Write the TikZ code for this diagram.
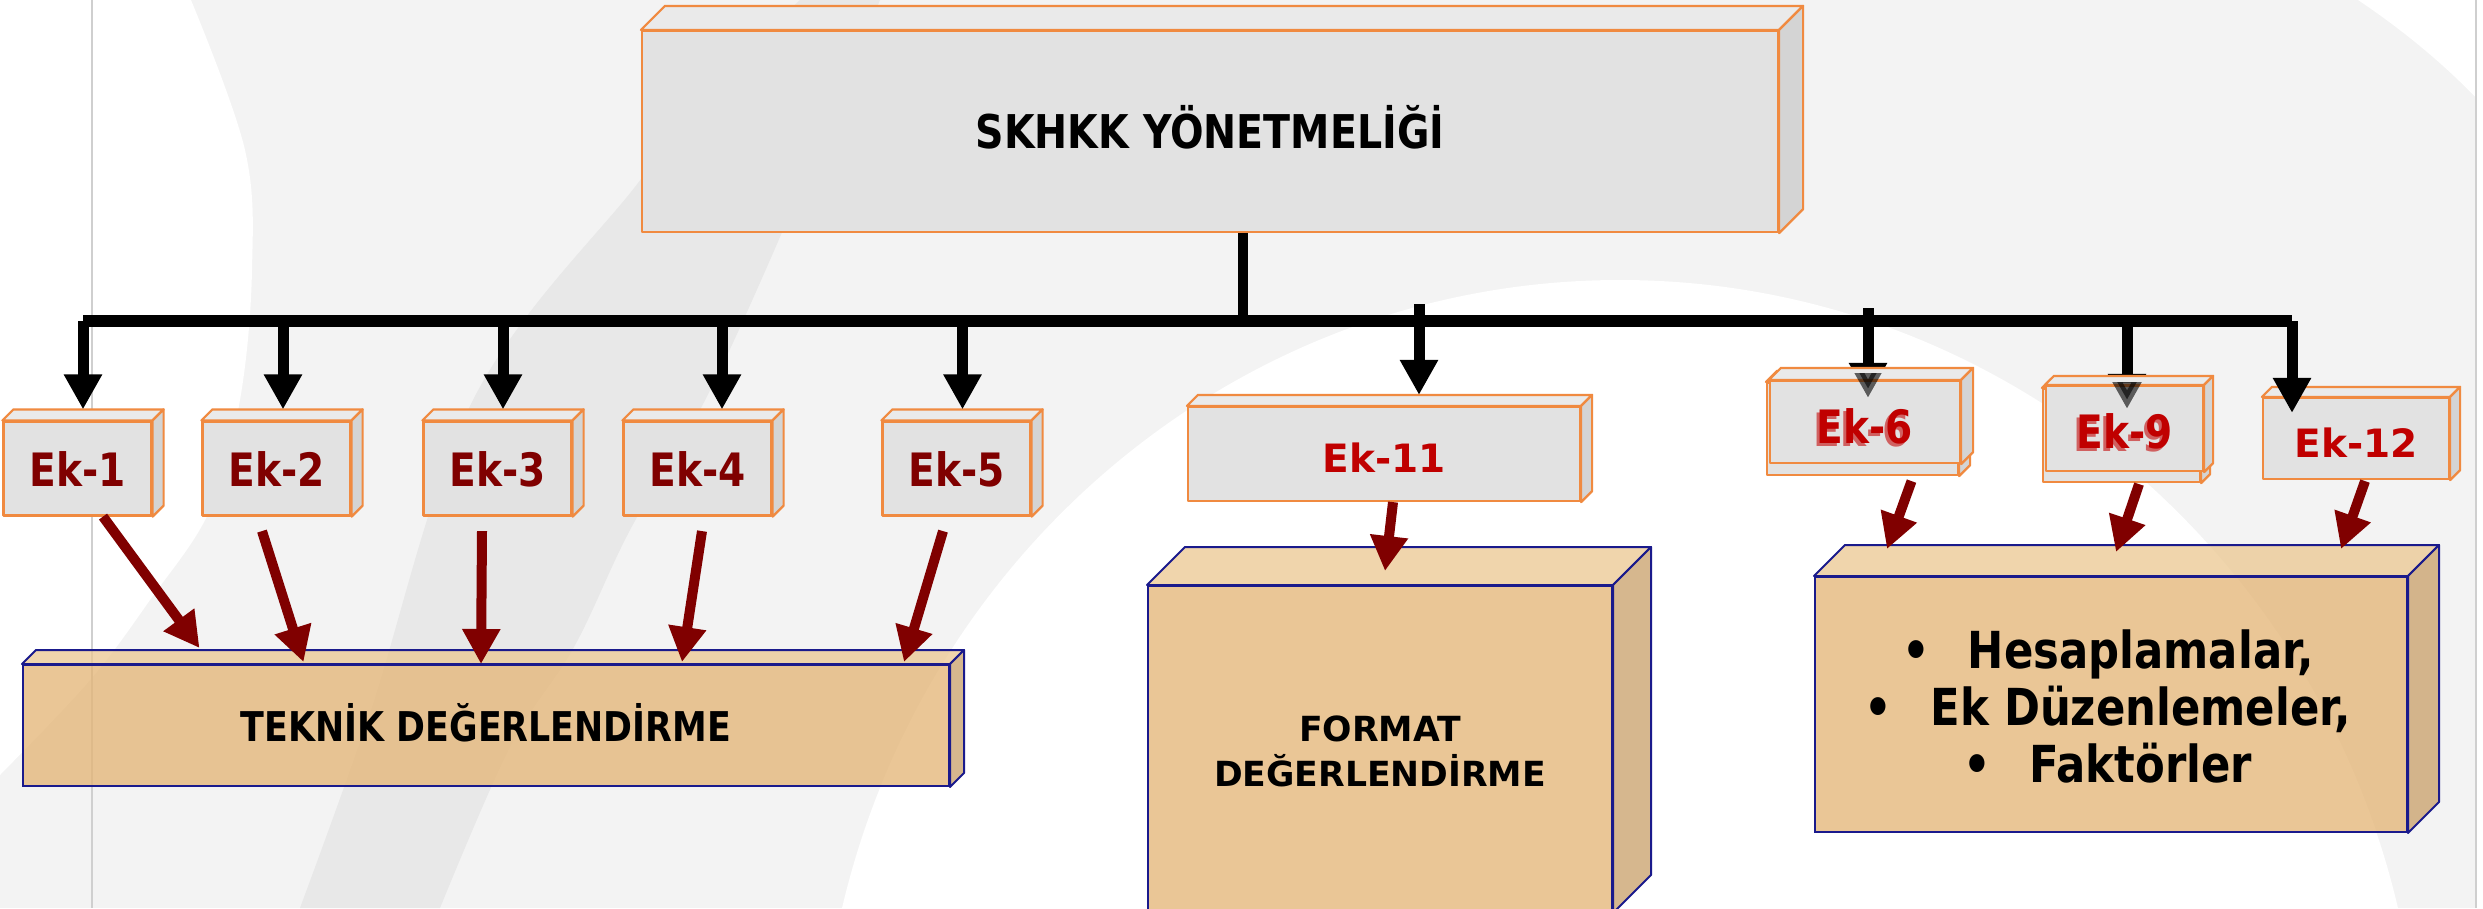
\documentclass[tikz,border=0pt]{standalone}
\usepackage{fontspec}
\setmainfont{DejaVu Sans}
\newfontfamily\tahf[FakeStretch=0.85]{DejaVu Sans}
\newfontfamily\verf{DejaVu Sans}
\usetikzlibrary{arrows.meta,calc}
\pgfdeclarelayer{bg}
\pgfdeclarelayer{back}
\pgfsetlayers{bg,back,main}
\definecolor{bgray}{HTML}{F3F3F3}
\definecolor{bandgray}{HTML}{E8E8E8}
\definecolor{vlinegray}{HTML}{CFCFCF}
\definecolor{orng}{HTML}{F08A40}
\definecolor{gfront}{HTML}{E2E2E2}
\definecolor{gtop}{HTML}{EAEAEA}
\definecolor{gside}{HTML}{D4D4D4}
\definecolor{tfront}{HTML}{E4B474}
\definecolor{ttop}{HTML}{EBC891}
\definecolor{tside}{HTML}{C9A069}
\definecolor{navyb}{HTML}{1A1A8C}
\definecolor{dred}{HTML}{800000}
\definecolor{rred}{HTML}{C00000}
\definecolor{shred}{HTML}{D06060}
\newcommand\fTitle{\tahf\bfseries\fontsize{46.5pt}{52pt}\selectfont}
\newcommand\fEk{\tahf\bfseries\fontsize{46pt}{50pt}\selectfont}
\newcommand\fTek{\tahf\bfseries\fontsize{41pt}{46pt}\selectfont}
\newcommand\fEkV{\verf\bfseries\fontsize{39pt}{45pt}\selectfont}
\newcommand\fFmt{\verf\bfseries\fontsize{34.6pt}{45pt}\selectfont}
\newcommand\fHes{\tahf\bfseries\fontsize{51pt}{57pt}\selectfont}
% 3D faces: #1 node, #2 depth, #3 top colour, #4 side colour, #5 style
\newcommand\boxfaces[5]{%
  \path[#5, fill=#3] (#1.north west) -- ++(#2,-#2) -- ($(#1.north east)+(#2,-#2)$) -- (#1.north east) -- cycle;
  \path[#5, fill=#4] (#1.north east) -- ($(#1.north east)+(#2,-#2)$) -- ($(#1.south east)+(#2,-#2)$) -- (#1.south east) -- cycle;
}
\newcommand\shadowtext[1]{\rlap{\kern-3pt\raisebox{-3pt}{\color{shred}#1}}#1}
\begin{document}
\begin{tikzpicture}[x=1pt,y=-1pt,
  graybox/.style={draw=orng, line width=2.2pt, fill=gfront, inner sep=0pt, line join=round},
  gface/.style={draw=orng, line width=2.2pt, line join=round},
  tanbox/.style={draw=navyb, line width=2pt, fill=tfront, fill opacity=0.75, text opacity=1, inner sep=0pt},
  tface/.style={draw=navyb, line width=2pt, fill opacity=0.75, line join=round},
  barline/.style={line width=12pt, draw=black},
  stemline/.style={line width=10pt, draw=black},
  blkarrow/.style={line width=11pt, draw=black, fill=black, -{Triangle[length=35pt,width=36pt]}},
  redarrow/.style={line width=10pt, draw=dred, fill=dred, -{Triangle[length=35pt,width=36pt]}},
]
\useasboundingbox (0,0) rectangle (2483,908);

% ---------- background ----------
\begin{pgfonlayer}{bg}
  \fill[bgray] (0,0) rectangle (2483,908);
  \fill[white] (0,0) -- plot[smooth, tension=0.6] coordinates {(191,0) (245,150) (252,270) (240,400) (210,510) (150,600) (90,680) (0,775)} -- cycle;
  \fill[bandgray] plot[smooth, tension=0.6] coordinates {(800,0) (700,100) (638,183) (473,400) (370,713) (300,908)}
     -- plot[smooth, tension=0.6] coordinates {(440,908) (510,747) (574,647) (630,530) (700,410) (770,260) (880,0)} -- cycle;
  \fill[white] (1620,1100) ellipse [x radius=800pt, y radius=820pt];
  \fill[white] (2358,0) .. controls (2410,35) and (2450,70) .. (2483,105) -- (2483,0) -- cycle;
  \fill[white] (2476,0) rectangle (2483,908);
  \draw[vlinegray, line width=2.5pt] (92,0) -- (92,908);
  \draw[vlinegray, line width=2.5pt] (2476,0) -- (2476,908);
\end{pgfonlayer}

% ---------- boxes ----------
\node[graybox, minimum width=1136pt, minimum height=201pt, text height=33pt, text depth=0pt, font=\fTitle] (top) at (1210,131.5) {SKHKK YÖNETMELİĞİ};
\boxfaces{top}{24}{gtop}{gside}{gface}

\foreach \n/\x/\t in {e1/77.5/Ek-1, e2/276.5/Ek-2, e3/497.5/Ek-3, e4/697.5/Ek-4, e5/956.5/Ek-5}{
  \node[graybox, minimum width=148pt, minimum height=94pt, text height=35pt, text depth=0pt, font=\fEk, text=dred] (\n) at (\x,468.5) {\t};
  \boxfaces{\n}{11}{gtop}{gside}{gface}
}

\node[tanbox, minimum width=926pt, minimum height=121pt, text height=31pt, text depth=0pt, font=\fTek] (tek) at (486,725.5) {TEKNİK DEĞERLENDİRME};
\boxfaces{tek}{14}{ttop}{tside}{tface}

\node[graybox, minimum width=392pt, minimum height=94pt, text height=36pt, text depth=0pt, font=\fEkV, text=rred] (e11) at (1384,454) {Ek-11};
\boxfaces{e11}{11}{gtop}{gside}{gface}

\node[tanbox, minimum width=464pt, minimum height=326pt] (fmt) at (1380,749) {};
\boxfaces{fmt}{38}{ttop}{tside}{tface}
\node[font=\fFmt, align=center] (fmttext) at (1380,751) {FORMAT\\DEĞERLENDİRME};

\node[tanbox, minimum width=592pt, minimum height=255pt] (hes) at (2111,704.5) {};
\boxfaces{hes}{31}{ttop}{tside}{tface}
\node[font=\fHes, align=center] (hestext) at (2108,706) {•\hspace{38pt}Hesaplamalar,\\•\hspace{38pt}Ek Düzenlemeler,\\•\hspace{38pt}Faktörler};

% Ek-6 (double box)
\node[graybox, minimum width=191pt, minimum height=92pt] (e6b) at (1862.5,429) {};
\boxfaces{e6b}{11}{gtop}{gside}{gface}
\node[graybox, minimum width=190pt, minimum height=82pt, text height=42pt, text depth=0pt, font=\fEk, text=rred] (e6) at (1865,422) {\shadowtext{Ek-6}};
\boxfaces{e6}{12}{gtop}{gside}{gface}

% Ek-9 (double box)
\node[graybox, minimum width=157pt, minimum height=93pt] (e9b) at (2121.5,435.5) {};
\boxfaces{e9b}{9}{gtop}{gside}{gface}
\node[graybox, minimum width=157pt, minimum height=85pt, text height=39pt, text depth=0pt, font=\fEk, text=rred] (e9) at (2124.5,428.5) {\shadowtext{Ek-9}};
\boxfaces{e9}{9}{gtop}{gside}{gface}

\node[graybox, minimum width=186pt, minimum height=81pt, text height=37pt, text depth=0pt, font=\fEkV, text=rred] (e12) at (2356,438.5) {Ek-12};
\boxfaces{e12}{10}{gtop}{gside}{gface}

% ---------- black connectors ----------
\coordinate (barL) at (83,321);
\coordinate (barR) at (2292,321);
\coordinate (stem) at ([xshift=33pt]top.south);
\coordinate (a1) at (83,321);
\coordinate (a2) at (283,321);
\coordinate (a3) at (503,321);
\coordinate (a4) at (722,321);
\coordinate (a5) at (962.5,321);
\coordinate (a11) at (1419,304);
\coordinate (a6) at (1868,308);
\coordinate (a9) at (2127,321);
\coordinate (a12) at (2292,321);

\begin{pgfonlayer}{back}
  \draw[barline] (barL) -- (barR);
  \draw[blkarrow] (a6) -- ($(a6 |- e6.north)+(0,18)$);
  \draw[blkarrow] (a9) -- ($(a9 |- e9.north)+(0,24)$);
\end{pgfonlayer}

\draw[stemline] (stem) -- (stem |- barL);
\draw[blkarrow] (a1) -- ($(a1 |- e1.north)+(0,-11)$);
\draw[blkarrow] (a2) -- ($(a2 |- e2.north)+(0,-11)$);
\draw[blkarrow] (a3) -- ($(a3 |- e3.north)+(0,-11)$);
\draw[blkarrow] (a4) -- ($(a4 |- e4.north)+(0,-11)$);
\draw[blkarrow] (a5) -- ($(a5 |- e5.north)+(0,-11)$);
\draw[blkarrow] (a11) -- ($(a11 |- e11.north)+(0,-11)$);
\draw[blkarrow] (a12) -- ($(a12 |- e12.north)+(0,16)$);

% arrow tips seen through the Ek-6 / Ek-9 boxes
\begin{scope}
  \clip (1760,373) rectangle (1985,490);
  \draw[blkarrow, opacity=0.6] (a6) -- ($(a6 |- e6.north)+(0,18)$);
\end{scope}
\begin{scope}
  \clip (2035,382) rectangle (2225,495);
  \draw[blkarrow, opacity=0.6] (a9) -- ($(a9 |- e9.north)+(0,24)$);
\end{scope}

% ---------- dark red connectors ----------
\draw[redarrow] ([shift={(25.5,0)}]e1.south) -- ([shift={(177.5,-16)}]tek.north west);
\draw[redarrow] ([shift={(-14.5,14.5)}]e2.south) -- ([shift={(281.5,-2)}]tek.north west);
\draw[redarrow] ([shift={(-15.5,14.5)}]e3.south) -- ([shift={(459,0)}]tek.north west);
\draw[redarrow] ([shift={(4.5,14.5)}]e4.south) -- ([shift={(660,-2)}]tek.north west);
\draw[redarrow] ([shift={(-13.5,14.5)}]e5.south) -- ([shift={(882,-2)}]tek.north west);
\draw[redarrow] ([shift={(9,0)}]e11.south) -- ([shift={(5,-14)}]fmt.north);
\draw[redarrow] ([shift={(49,5)}]e6b.south) -- ([shift={(73,-27)}]hes.north west);
\draw[redarrow] ([shift={(17.5,1)}]e9b.south) -- ([shift={(302,-24)}]hes.north west);
\draw[redarrow] ([shift={(9,1)}]e12.south) -- ([shift={(527,-27)}]hes.north west);
\end{tikzpicture}
\end{document}
